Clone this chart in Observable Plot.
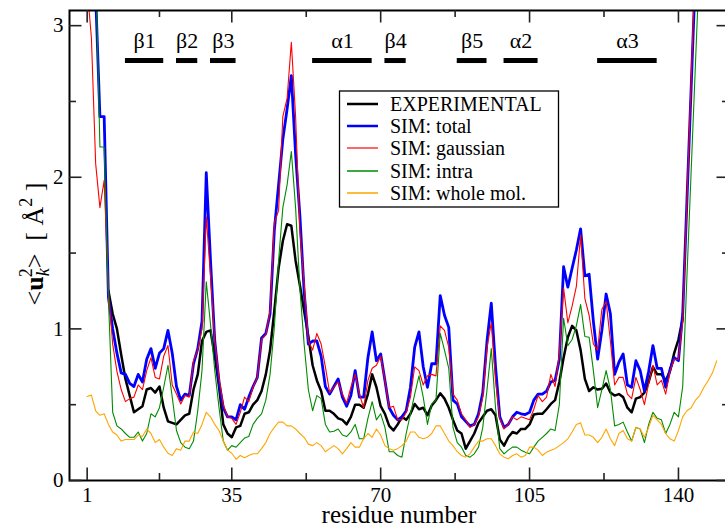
<!DOCTYPE html>
<html><head><meta charset="utf-8">
<script src="https://cdn.jsdelivr.net/npm/d3@7"></script>
<script src="https://cdn.jsdelivr.net/npm/@observablehq/plot@0.6"></script>
<style>
html,body{margin:0;padding:0;background:#fff;overflow:hidden;width:725px;height:527px}
#chart svg{display:block}
</style></head><body><div id="chart"></div>
<script>
// ---------------- data ----------------
const seriesNames = ["EXPERIMENTAL","SIM: total","SIM: gaussian","SIM: intra","SIM: whole mol."];
const seriesColors = ["#000000","#0000ff","#ff0000","#008b00","#ffa500"];

const expStart = 6;
const expValues = [1.25,1.10,1.00,0.83,0.67,0.56,0.45,0.47,0.49,0.60,0.61,0.58,0.62,0.48,0.39,0.38,0.37,0.40,0.43,0.44,
0.60,0.70,0.92,0.98,0.99,0.82,0.62,0.37,0.31,0.285,0.35,0.36,0.44,0.45,0.50,0.53,0.59,0.70,0.86,1.12,
1.40,1.58,1.69,1.68,1.45,1.29,1.12,0.95,0.76,0.66,0.59,0.46,0.46,0.44,0.41,0.40,0.37,0.42,0.50,0.50,
0.48,0.57,0.70,0.615,0.49,0.44,0.36,0.33,0.37,0.42,0.40,0.44,0.505,0.47,0.48,0.43,0.495,0.53,0.575,0.54,
0.48,0.40,0.33,0.31,0.21,0.26,0.31,0.38,0.42,0.46,0.47,0.43,0.27,0.23,0.285,0.32,0.31,0.34,0.34,0.37,
0.435,0.44,0.44,0.47,0.505,0.53,0.65,0.81,0.945,1.02,0.99,0.86,0.67,0.59,0.615,0.60,0.605,0.64,0.58,0.56,
0.57,0.55,0.48,0.45,0.54,0.55,0.58,0.65,0.75,0.70,0.70,0.66,0.72,0.84,0.93,1.07];

const totalStart = 1;
const totalValues = [4.8,4.2,3.2,2.40,2.40,1.21,1.0,0.84,0.71,0.70,0.64,0.62,0.70,0.65,0.80,0.87,0.74,0.84,0.87,0.99,
0.84,0.62,0.53,0.57,0.56,0.77,0.87,1.05,2.03,1.45,0.92,0.65,0.48,0.42,0.42,0.40,0.50,0.47,0.55,0.62,
0.68,0.94,0.97,1.10,1.65,1.95,2.25,2.45,2.67,2.15,1.75,1.25,0.90,0.92,0.92,0.82,0.62,0.57,0.62,0.67,
0.55,0.49,0.56,0.725,0.55,0.55,0.81,0.98,0.79,0.835,0.66,0.48,0.43,0.40,0.42,0.46,0.615,0.88,0.98,0.75,
0.615,0.77,0.77,1.22,1.09,1.01,0.53,0.505,0.42,0.39,0.36,0.37,0.44,0.58,0.92,1.17,0.75,0.42,0.35,0.37,
0.42,0.45,0.44,0.435,0.45,0.53,0.57,0.57,0.59,0.65,0.66,0.80,1.41,1.275,1.40,1.52,1.66,1.35,1.36,1.05,
0.80,0.99,1.23,1.10,0.70,0.78,0.835,0.63,0.615,0.79,0.725,0.59,0.72,0.89,0.74,0.74,0.615,0.73,0.81,0.79,
1.10,1.85,2.60,3.35,4.10];

const gaussStart = 1;
const gaussValues = [3.25,2.92,2.09,1.80,1.98,1.25,0.90,0.72,0.60,0.52,0.54,0.55,0.63,0.60,0.725,0.81,0.68,0.67,0.82,0.89,
0.63,0.57,0.505,0.56,0.55,0.79,0.86,1.00,1.74,1.35,0.92,0.68,0.50,0.42,0.41,0.37,0.45,0.55,0.52,0.615,
0.68,0.93,0.96,1.12,1.70,1.78,2.40,2.52,2.89,2.40,1.65,1.30,0.92,0.86,0.97,0.90,0.75,0.58,0.615,0.65,
0.57,0.51,0.615,0.70,0.57,0.48,0.66,0.74,0.76,0.82,0.66,0.48,0.49,0.40,0.40,0.45,0.55,0.75,0.725,0.63,
0.69,0.70,0.69,1.02,0.99,0.88,0.57,0.53,0.44,0.40,0.35,0.37,0.42,0.55,0.88,1.04,0.66,0.41,0.34,0.37,
0.42,0.40,0.42,0.41,0.40,0.47,0.56,0.52,0.55,0.70,0.62,0.835,1.27,1.04,1.15,1.28,1.62,1.20,1.09,0.90,
0.86,1.13,1.18,0.92,0.63,0.68,0.68,0.57,0.54,0.68,0.60,0.50,0.64,0.76,0.63,0.66,0.57,0.72,0.80,0.80,
1.05,1.85,2.65,3.45];

const intraStart = 1;
const intraValues = [4.6,4.0,3.4,2.20,2.20,1.20,0.45,0.36,0.34,0.31,0.285,0.285,0.32,0.26,0.31,0.44,0.42,0.48,0.615,0.76,
0.55,0.33,0.25,0.22,0.21,0.26,0.46,0.725,1.31,1.03,0.725,0.48,0.26,0.20,0.23,0.22,0.25,0.28,0.29,0.37,
0.41,0.44,0.53,0.70,1.01,1.45,1.80,1.95,2.17,1.80,1.27,0.90,0.60,0.46,0.56,0.54,0.37,0.32,0.325,0.34,
0.30,0.29,0.32,0.37,0.275,0.275,0.41,0.52,0.40,0.44,0.35,0.19,0.19,0.165,0.154,0.31,0.44,0.57,0.69,0.55,
0.37,0.505,0.53,0.97,0.86,0.74,0.35,0.25,0.22,0.165,0.154,0.176,0.22,0.35,0.60,0.87,0.48,0.21,0.176,0.20,
0.22,0.22,0.20,0.187,0.176,0.22,0.26,0.285,0.31,0.34,0.33,0.50,1.07,0.89,0.93,1.02,1.16,0.95,0.945,0.725,
0.48,0.60,0.725,0.60,0.36,0.37,0.385,0.32,0.26,0.35,0.34,0.25,0.37,0.45,0.41,0.40,0.31,0.37,0.45,0.42,
0.62,1.35,2.05,2.75,3.45];

const wholeStart = 1;
const wholeValues = [0.554,0.563,0.46,0.43,0.44,0.37,0.32,0.30,0.26,0.27,0.27,0.27,0.30,0.29,0.34,0.31,0.25,0.27,0.22,0.18,
0.165,0.21,0.20,0.26,0.26,0.32,0.31,0.37,0.45,0.42,0.37,0.33,0.26,0.20,0.18,0.14,0.165,0.15,0.165,0.176,
0.176,0.21,0.25,0.31,0.35,0.385,0.385,0.36,0.36,0.34,0.31,0.285,0.24,0.23,0.25,0.23,0.19,0.21,0.23,0.21,
0.176,0.21,0.25,0.22,0.22,0.275,0.31,0.285,0.34,0.30,0.23,0.21,0.20,0.21,0.23,0.26,0.32,0.32,0.285,0.275,
0.285,0.31,0.36,0.36,0.31,0.26,0.23,0.19,0.165,0.154,0.176,0.22,0.26,0.26,0.275,0.275,0.23,0.176,0.154,0.143,
0.165,0.176,0.154,0.165,0.22,0.22,0.20,0.165,0.187,0.20,0.21,0.23,0.25,0.275,0.32,0.37,0.38,0.30,0.30,0.285,
0.25,0.285,0.34,0.275,0.23,0.31,0.33,0.275,0.26,0.35,0.34,0.285,0.35,0.43,0.40,0.37,0.31,0.275,0.26,0.33,
0.42,0.46,0.48,0.53,0.56,0.615,0.66,0.71,0.79];

const ssNames = ["β1","β2","β3","α1","β4","β5","α2","α3"];
const ssStart = [10,22,30,54,71,88,99,121];
const ssEnd   = [19,27,36,68,76,95,107,135];

const xMajorTicks = [1,35,70,105,140];
const xMinorTicks = [18,52.5,87.5,122.5];
const yMajorTicks = [0,1,2,3];
const yMinorTicks = [0.5,1.5,2.5];

// ---------------- build ----------------
const toPts = (start, vals) => vals.map((v, i) => ({x: start + i, y: v}));
const series = [
  {pts: toPts(expStart, expValues), w: 2.5},
  {pts: toPts(totalStart, totalValues), w: 2.8},
  {pts: toPts(gaussStart, gaussValues), w: 1.1},
  {pts: toPts(intraStart, intraValues), w: 1.1},
  {pts: toPts(wholeStart, wholeValues), w: 1.1}
];
const ss = ssNames.map((n, i) => ({name: n, start: ssStart[i], end: ssEnd[i]}));

const W = 730, H = 527, mL = 69, mR = 1, mT = 10, mB = 47;
const innerW = W - mL - mR, innerH = H - mT - mB;
const MAJ = 12.5, MIN = 7;
const SS_BAR_Y = 2.77, SS_LABEL_Y = 2.85;
const serif = "'Liberation Serif','Times New Roman',Times,serif";

const marks = [];
series.forEach((s, i) => marks.push(Plot.line(s.pts, {x: "x", y: "y", stroke: seriesColors[i], strokeWidth: s.w, clip: true})));
marks.push(
  Plot.frame({stroke: "black", strokeWidth: 2}),
  Plot.tickX(xMajorTicks, {x: d => d, insetTop: innerH - MAJ, stroke: "#222", strokeWidth: 1.6}),
  Plot.tickX(xMajorTicks, {x: d => d, insetBottom: innerH - MAJ, stroke: "#222", strokeWidth: 1.6}),
  Plot.tickX(xMinorTicks, {x: d => d, insetTop: innerH - MIN, stroke: "#222", strokeWidth: 1.6}),
  Plot.tickX(xMinorTicks, {x: d => d, insetBottom: innerH - MIN, stroke: "#222", strokeWidth: 1.6}),
  Plot.tickY(yMajorTicks, {y: d => d, insetRight: innerW - MAJ, stroke: "#222", strokeWidth: 1.6}),
  Plot.tickY(yMajorTicks, {y: d => d, insetLeft: innerW - MAJ, stroke: "#222", strokeWidth: 1.6}),
  Plot.tickY(yMinorTicks, {y: d => d, insetRight: innerW - MIN, stroke: "#222", strokeWidth: 1.6}),
  Plot.tickY(yMinorTicks, {y: d => d, insetLeft: innerW - MIN, stroke: "#222", strokeWidth: 1.6}),
  Plot.axisX({ticks: xMajorTicks, tickSize: 0, tickPadding: 7, tickFormat: d => String(d), label: null}),
  Plot.axisY({ticks: yMajorTicks, tickSize: 0, tickPadding: 6, tickFormat: d => String(d), label: null}),
  Plot.ruleY(ss, {x1: "start", x2: "end", y: SS_BAR_Y, strokeWidth: 5, stroke: "black"}),
  Plot.text(ss, {x: d => (d.start + d.end) / 2, y: SS_LABEL_Y, text: "name", fontSize: 22, lineAnchor: "bottom", fill: "black"})
);

const svg = Plot.plot({
  width: W, height: H,
  marginLeft: mL, marginRight: mR, marginTop: mT, marginBottom: mB,
  x: {domain: [-3.15, 152], label: null},
  y: {domain: [0, 3.1], label: null},
  style: {fontFamily: serif, fontSize: "21px", color: "black", background: "white", maxWidth: "none", overflow: "hidden"},
  marks
});
document.getElementById("chart").appendChild(svg);

const root = d3.select(svg);
// x axis title
root.append("text").attr("x", 399).attr("y", 523).attr("text-anchor", "middle")
  .attr("font-family", serif).attr("font-size", 25).attr("fill", "black").text("residue number");

// y axis title
const yt = root.append("text").attr("transform", "translate(43,244) rotate(-90)")
  .attr("text-anchor", "middle").attr("font-family", serif).attr("font-size", 26).attr("fill", "black");
yt.append("tspan").text("<");
yt.append("tspan").attr("font-weight", "bold").text("u");
yt.append("tspan").attr("font-style", "italic").attr("font-size", 18).attr("dy", 6).text("k");
yt.append("tspan").attr("font-size", 18).attr("dy", -17).attr("dx", -9).text("2");
yt.append("tspan").attr("dy", 11).text(">");
yt.append("tspan").text("\u00a0\u00a0[\u00a0Å");
yt.append("tspan").attr("font-size", 18).attr("dy", -11).text("2");
yt.append("tspan").attr("dy", 11).text("\u00a0]");

// legend
const lg = root.append("g").attr("text-anchor", "start");
lg.append("rect").attr("x", 339.5).attr("y", 91).attr("width", 219).attr("height", 116)
  .attr("fill", "white").attr("stroke", "black").attr("stroke-width", 1.3);
const rowsY = [104, 126, 148, 171, 193];
const legW = [2.5, 2.5, 1.2, 1.5, 1.5];
seriesNames.forEach((n, i) => {
  lg.append("line").attr("x1", 347).attr("x2", 378).attr("y1", rowsY[i]).attr("y2", rowsY[i])
    .attr("stroke", seriesColors[i]).attr("stroke-width", legW[i]);
  lg.append("text").attr("x", 390).attr("y", rowsY[i] + 7).attr("text-anchor", "start").attr("font-family", serif)
    .attr("font-size", 20).attr("fill", "black").text(n);
});
</script></body></html>
